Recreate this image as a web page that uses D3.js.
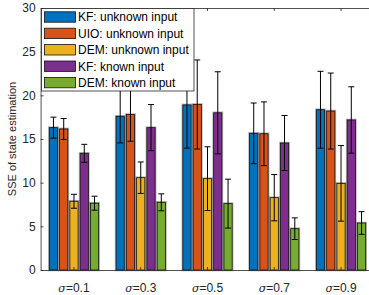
<!DOCTYPE html>
<html>
<head>
<meta charset="utf-8">
<script src="https://cdn.jsdelivr.net/npm/d3@7"></script>
<style>
  body { margin: 0; background: #fff; }
  svg { display: block; font-family: "Liberation Sans", Arial, Helvetica, sans-serif; }
</style>
</head>
<body>
<div id="chart"></div>
<script>
// noise levels (x groups)
var groups = ["0.1", "0.3", "0.5", "0.7", "0.9"];
var seriesNames = ["KF: unknown input", "UIO: unknown input", "DEM: unknown input", "KF: known input", "DEM: known input"];
var seriesColors = ["#0072BD", "#D95319", "#EDB120", "#7E2F8E", "#77AC30"];

// mean SSE per series
var kfUnknown  = [16.3, 17.6, 18.9, 15.65, 18.35];
var uioUnknown = [16.15, 17.8, 18.95, 15.6, 18.2];
var demUnknown = [7.87, 10.57, 10.46, 8.28, 9.92];
var kfKnown    = [13.36, 16.3, 18.0, 14.54, 17.18];
var demKnown   = [7.65, 7.75, 7.6, 4.73, 5.38];

// error bar half-lengths
var kfUnknownErr  = [1.2, 3.05, 4.95, 3.47, 4.4];
var uioUnknownErr = [1.2, 3.05, 5.1, 3.65, 4.35];
var demUnknownErr = [0.8, 1.8, 3.65, 2.65, 4.33];
var kfKnownErr    = [1.03, 2.64, 4.7, 3.15, 3.8];
var demKnownErr   = [0.8, 0.97, 2.8, 1.24, 1.3];

var yTicks = [0, 5, 10, 15, 20, 25, 30];

var means = [kfUnknown, uioUnknown, demUnknown, kfKnown, demKnown];
var errs = [kfUnknownErr, uioUnknownErr, demUnknownErr, kfKnownErr, demKnownErr];

var W = 369, H = 295;
var axisColor = "#262626";

var svg = d3.select("#chart").append("svg")
    .attr("width", W)
    .attr("height", H);

// scales (right edge of the axes box falls outside the picture)
var x = d3.scaleBand()
    .domain(groups)
    .range([40.6, 374.4])
    .padding(0);

var gw = x.bandwidth() * 5 / 6.5;
var xs = d3.scaleBand()
    .domain(seriesNames)
    .range([-gw / 2, gw / 2])
    .paddingInner(0.2)
    .paddingOuter(0.1);

var y = d3.scaleLinear()
    .domain([0, 30])
    .range([270, 8]);

// flatten into bar records
var bars = [];
seriesNames.forEach(function(s, i) {
    groups.forEach(function(g, j) {
        bars.push({series: s, color: seriesColors[i], group: g, value: means[i][j], err: errs[i][j]});
    });
});

function barX(d) { return x(d.group) + x.bandwidth() / 2 + xs(d.series); }

// grey halo under bars
svg.append("g").selectAll("rect")
    .data(bars)
    .enter()
    .append("rect")
        .attr("x", barX)
        .attr("y", function(d) { return y(d.value); })
        .attr("width", xs.bandwidth())
        .attr("height", function(d) { return y(0) - y(d.value); })
        .attr("fill", "none")
        .attr("stroke", "#000")
        .attr("stroke-opacity", 0.3)
        .attr("stroke-width", 2.6);

svg.append("g").selectAll("rect")
    .data(bars)
    .enter()
    .append("rect")
        .attr("x", barX)
        .attr("y", function(d) { return y(d.value); })
        .attr("width", xs.bandwidth())
        .attr("height", function(d) { return y(0) - y(d.value); })
        .attr("fill", function(d) { return d.color; })
        .attr("stroke", "#111")
        .attr("stroke-width", 0.8);

// error bars
var eb = svg.append("g").selectAll("g")
    .data(bars)
    .enter()
    .append("g")
        .attr("stroke", "#000")
        .attr("stroke-width", 1);

eb.append("line")
    .attr("x1", function(d) { return barX(d) + xs.bandwidth() / 2; })
    .attr("x2", function(d) { return barX(d) + xs.bandwidth() / 2; })
    .attr("y1", function(d) { return y(d.value + d.err); })
    .attr("y2", function(d) { return y(d.value - d.err); });

[1, -1].forEach(function(sgn) {
    eb.append("line")
        .attr("x1", function(d) { return barX(d) + xs.bandwidth() / 2 - 3; })
        .attr("x2", function(d) { return barX(d) + xs.bandwidth() / 2 + 3; })
        .attr("y1", function(d) { return y(d.value + sgn * d.err); })
        .attr("y2", function(d) { return y(d.value + sgn * d.err); });
});

// axes
var yAxis = svg.append("g")
    .attr("transform", "translate(40.6,0)")
    .call(d3.axisLeft(y).tickValues(yTicks).tickSize(-3).tickSizeOuter(0).tickPadding(5));

var xAxis = svg.append("g")
    .attr("transform", "translate(0,270)")
    .call(d3.axisBottom(x).tickSize(-3).tickSizeOuter(0).tickPadding(13));

var topAxis = svg.append("g")
    .attr("transform", "translate(0,8)")
    .call(d3.axisTop(x).tickSize(-3).tickSizeOuter(0).tickFormat(""));

[yAxis, xAxis, topAxis].forEach(function(a) {
    a.select(".domain").attr("stroke", axisColor).attr("stroke-width", 0.8);
    a.selectAll(".tick line").attr("stroke", axisColor).attr("stroke-width", 0.8);
    a.selectAll(".tick text").attr("fill", axisColor).attr("font-size", 12)
        .attr("font-family", "'Liberation Sans', Arial, sans-serif");
});

// sigma labels with italic symbol
xAxis.selectAll(".tick text").each(function(d) {
    var t = d3.select(this).text("");
    t.append("tspan").attr("font-style", "italic").attr("font-family", "'DejaVu Serif', serif").attr("font-size", 11).text("σ");
    t.append("tspan").text("=" + d);
});

// y label
svg.append("text")
    .attr("transform", "translate(16,139) rotate(-90)")
    .attr("text-anchor", "middle")
    .attr("font-size", 11)
    .attr("fill", axisColor)
    .text("SSE of state estimation");

// legend
var leg = svg.append("g").attr("transform", "translate(41.5,8.5)");
leg.append("rect")
    .attr("width", 152.5)
    .attr("height", 82.5)
    .attr("fill", "#fff")
    .attr("stroke", axisColor)
    .attr("stroke-width", 0.8);

var items = leg.selectAll("g.item")
    .data(seriesNames)
    .enter()
    .append("g")
        .attr("class", "item")
        .attr("transform", function(d, i) { return "translate(0," + (8.5 + i * 16.4) + ")"; });

items.append("rect")
    .attr("x", 3)
    .attr("y", -5.2)
    .attr("width", 31)
    .attr("height", 10.4)
    .attr("fill", function(d, i) { return seriesColors[i]; })
    .attr("stroke", "#111")
    .attr("stroke-width", 0.8);

items.append("text")
    .attr("x", 36.5)
    .attr("y", 4.3)
    .attr("font-size", 12)
    .attr("fill", "#000")
    .text(function(d) { return d; });
</script>
</body>
</html>
